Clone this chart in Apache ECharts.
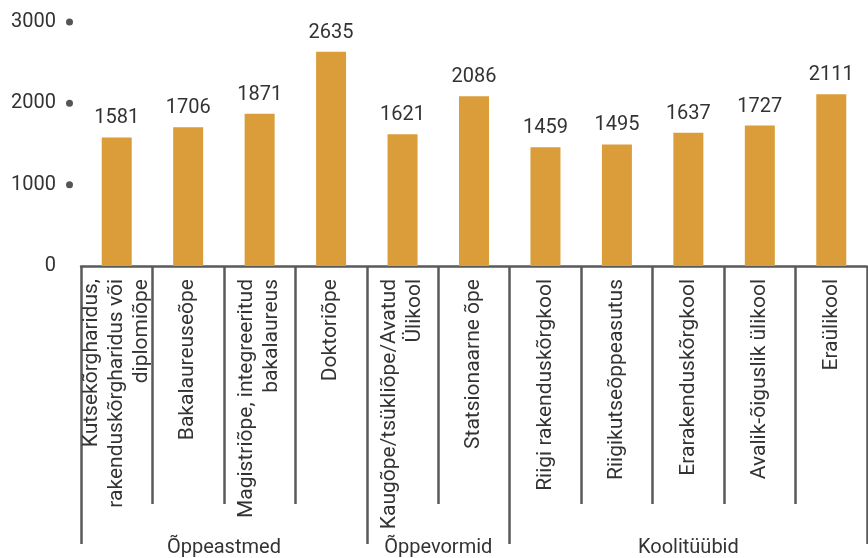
<!DOCTYPE html>
<html>
<head>
<meta charset="utf-8">
<script src="https://cdn.jsdelivr.net/npm/echarts@6/dist/echarts.min.js"></script>
<style>
  html, body { margin: 0; padding: 0; background: #fff; }
  #chart { width: 868px; height: 558px; }
</style>
</head>
<body>
<div id="chart"></div>
<script>
// kategooriad (x-telg)
var categories = [
    'Kutsekõrgharidus,\nrakenduskõrgharidus või\ndiplomiõpe',
    'Bakalaureuseõpe',
    'Magistriõpe, integreeritud\nbakalaureus',
    'Doktoriõpe',
    'Kaugõpe/tsükliõpe/Avatud\nÜlikool',
    'Statsionaarne õpe',
    'Riigi rakenduskõrgkool',
    'Riigikutseõppeasutus',
    'Erarakenduskõrgkool',
    'Avalik-õiguslik ülikool',
    'Eraülikool'
];
var values = [1581, 1706, 1871, 2635, 1621, 2086, 1459, 1495, 1637, 1727, 2111];
// grupid ja mitu kategooriat igas grupis
var groups = ['Õppeastmed', 'Õppevormid', 'Koolitüübid'];
var groupSizes = [4, 2, 5];
var yTicks = [0, 1000, 2000, 3000];

var FONT = 'Roboto';
var TEXT = '#333';
var LINE = '#5a5a5a';

// grupipiirid ja keskpunktid
var groupEdges = [0], groupMids = [];
for (let i = 0; i < groupSizes.length; i++) {
    let start = groupEdges[groupEdges.length - 1];
    groupEdges.push(start + groupSizes[i]);
    groupMids.push(start + groupSizes[i] / 2);
}

var chart = echarts.init(document.getElementById('chart'));
var option = {
    animation: false,
    grid: { left: 81, right: 1, top: 22, bottom: 291, containLabel: false },
    xAxis: [
        {
            type: 'category',
            data: categories,
            axisLine: { show: true, lineStyle: { color: LINE, width: 2.5 } },
            axisTick: {
                show: true, interval: 0, alignWithLabel: false, length: 238,
                lineStyle: { color: LINE, width: 2.5 }
            },
            axisLabel: {
                interval: 0, rotate: 90, margin: 13,
                fontFamily: FONT, fontSize: 21, color: TEXT, lineHeight: 25
            }
        },
        {
            type: 'value',
            position: 'bottom',
            min: 0,
            max: categories.length,
            axisLine: { show: false },
            splitLine: { show: false },
            axisTick: {
                show: true, length: 278, customValues: groupEdges,
                lineStyle: { color: LINE, width: 2.5 }
            },
            axisLabel: {
                show: true, margin: 272, customValues: groupMids,
                fontFamily: FONT, fontSize: 20, color: TEXT,
                formatter: function (v) {
                    let i = groupMids.indexOf(v);
                    return i >= 0 ? groups[i] : '';
                }
            }
        }
    ],
    yAxis: {
        type: 'value',
        min: yTicks[0],
        max: yTicks[yTicks.length - 1],
        interval: 1000,
        axisLine: { show: false },
        axisTick: { show: false },
        splitLine: { show: false },
        axisLabel: {
            margin: 8,
            formatter: function (v) {
                return v === 0 ? '{v|0}{n|}' : '{v|' + v + '}{d|}';
            },
            rich: {
                v: { fontFamily: FONT, fontSize: 20, color: TEXT, padding: [0, 10, 0, 0] },
                d: { width: 7, height: 7, borderRadius: 3.5, backgroundColor: '#555' },
                n: { width: 7, height: 7 }
            }
        }
    },
    series: [
        {
            type: 'bar',
            xAxisIndex: 0,
            data: values,
            barWidth: 30,
            itemStyle: { color: '#DA9D3A' },
            label: {
                show: true, position: 'top', distance: 9,
                fontFamily: FONT, fontSize: 20, color: TEXT
            }
        }
    ]
};
chart.setOption(option);
</script>
</body>
</html>
